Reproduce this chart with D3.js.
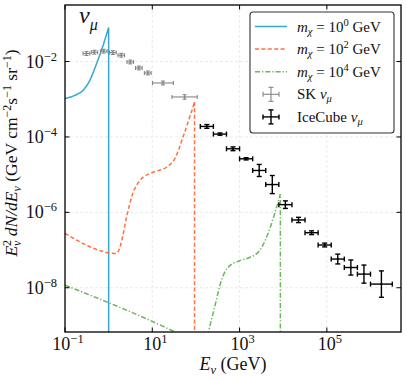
<!DOCTYPE html>
<html>
<head>
<meta charset="utf-8">
<script src="https://cdn.jsdelivr.net/npm/d3@7"></script>
<style>
  body { margin: 0; background: #fff; }
  svg { display: block; }
  text { font-family: "Liberation Serif", "DejaVu Serif", serif; fill: #111; }
</style>
</head>
<body>
<div id="viz-container"></div>
<script>
// curves: E (GeV) and E^2 dN/dE
const blueE = [0.1, 0.169, 0.262, 0.372, 0.531, 0.75, 1.0];
const blueFlux = [1.04e-3, 1.27e-3, 1.73e-3, 3.18e-3, 8.85e-3, 2.72e-2, 8.0e-2];
const orangeE = [0.1, 1.52, 1.81, 2.57, 3.35, 5.18, 10.4, 21.1, 32.7, 50.6, 71.9, 90.2, 93.0];
const orangeFlux = [2.76e-7, 8.13e-8, 1.17e-7, 7.36e-7, 2.51e-6, 6.97e-6, 1.16e-5, 1.57e-5, 2.63e-5, 9.89e-5, 3.37e-4, 7.64e-4, 8.79e-4];
const greenE = [0.1, 35.5, 100, 141, 188, 267, 381, 540, 998, 1690, 2864, 4446, 6339, 8600];
const greenFlux = [1.17e-8, 6.44e-10, 3.55e-10, 1.26e-10, 5.83e-10, 2.97e-9, 1.53e-8, 3.44e-8, 5.19e-8, 6.35e-8, 9.57e-8, 2.67e-7, 9.06e-7, 3.08e-6];
const massLabels = ["0", "2", "4"];

// Super-Kamiokande points
const skE = [0.31, 0.47, 0.77, 1.25, 1.95, 3.13, 4.93, 7.9, 17.5, 55];
const skEmin = [0.26, 0.40, 0.65, 1.05, 1.64, 2.63, 4.14, 6.6, 10.1, 28.2];
const skEmax = [0.37, 0.56, 0.92, 1.49, 2.32, 3.72, 5.87, 9.4, 30.4, 107];
const skFlux = [1.63e-2, 1.77e-2, 1.88e-2, 1.73e-2, 1.47e-2, 9.75e-3, 6.76e-3, 4.98e-3, 2.70e-3, 1.15e-3];
const skErrDex = [0.05, 0.05, 0.05, 0.05, 0.05, 0.05, 0.05, 0.05, 0.05, 0.06];

// IceCube points
const iceE = [178, 355, 708, 1413, 2818, 5623, 11220, 22390, 44670, 89130, 177800, 354800, 707900, 1778000];
const iceBinDex = [0.15, 0.15, 0.15, 0.15, 0.15, 0.15, 0.15, 0.15, 0.15, 0.15, 0.15, 0.15, 0.15, 0.25];
const iceFlux = [1.90e-4, 1.19e-4, 4.85e-5, 2.63e-5, 1.29e-5, 5.46e-6, 1.60e-6, 6.28e-7, 2.88e-7, 1.36e-7, 5.77e-8, 3.44e-8, 2.30e-8, 1.25e-8];
const iceErrDex = [0.05, 0.03, 0.05, 0.03, 0.16, 0.24, 0.1, 0.07, 0.05, 0.05, 0.13, 0.2, 0.24, 0.35];

const xTicks = [1e-1, 1e1, 1e3, 1e5];
const yTicks = [1e-2, 1e-4, 1e-6, 1e-8];

const width = 407, height = 381, margin = { left: 65, right: 6, top: 5, bottom: 49 };
const blue = "#36a8cf", orange = "#ff7043", green = "#6cb65c";

const svg = d3.select("#viz-container").append("svg")
    .attr("width", width)
    .attr("height", height);

const x = d3.scaleLog()
    .domain([0.1, 5.0e6])
    .range([margin.left, width - margin.right]);
const y = d3.scaleLog()
    .domain([6.7e-10, 0.316])
    .range([height - margin.bottom, margin.top]);

const x0 = margin.left, x1 = width - margin.right;
const y0 = height - margin.bottom, y1 = margin.top;

svg.append("clipPath").attr("id", "clip")
    .append("rect").attr("x", x0).attr("y", y1).attr("width", x1 - x0).attr("height", y0 - y1);

// grid
svg.append("g").selectAll("line")
    .data(xTicks.slice(1))
    .join("line")
    .attr("x1", d => x(d)).attr("x2", d => x(d))
    .attr("y1", y1).attr("y2", y0)
    .attr("stroke", "#e4e4e4").attr("stroke-dasharray", "3,2").attr("stroke-width", 0.8);
svg.append("g").selectAll("line")
    .data(yTicks)
    .join("line")
    .attr("y1", d => y(d)).attr("y2", d => y(d))
    .attr("x1", x0).attr("x2", x1)
    .attr("stroke", "#e4e4e4").attr("stroke-dasharray", "3,2").attr("stroke-width", 0.8);

// curves
const plot = svg.append("g").attr("clip-path", "url(#clip)");
const line = d3.line().x(d => x(d[0])).y(d => y(d[1])).curve(d3.curveMonotoneX);

function drawCurve(E, F, color, dash) {
    const pts = E.map((e, i) => [e, F[i]]);
    const last = pts[pts.length - 1];
    plot.append("path")
        .attr("d", line(pts) + `L${x(last[0])},${y0 + 10}`)
        .attr("fill", "none")
        .attr("stroke", color)
        .attr("stroke-width", 1.5)
        .attr("stroke-dasharray", dash);
}
drawCurve(blueE, blueFlux, blue, null);
drawCurve(orangeE, orangeFlux, orange, "4,2.4");
drawCurve(greenE, greenFlux, green, "5,2,1.3,2");

// error bars
function errorBars(E, lo, hi, F, dex, color, sw, cap) {
    const g = plot.append("g").attr("stroke", color).attr("stroke-width", sw).attr("fill", "none");
    E.forEach((e, i) => {
        const cx = x(e), cy = y(F[i]);
        const xa = x(lo[i]), xb = x(hi[i]);
        const ya = y(F[i] * Math.pow(10, dex[i])), yb = y(F[i] / Math.pow(10, dex[i]));
        g.append("line").attr("x1", xa).attr("x2", xb).attr("y1", cy).attr("y2", cy);
        g.append("line").attr("x1", cx).attr("x2", cx).attr("y1", ya).attr("y2", yb);
        [xa, xb].forEach(v => g.append("line").attr("x1", v).attr("x2", v).attr("y1", cy - cap).attr("y2", cy + cap));
        [ya, yb].forEach(v => g.append("line").attr("y1", v).attr("y2", v).attr("x1", cx - cap).attr("x2", cx + cap));
        g.append("circle").attr("cx", cx).attr("cy", cy).attr("r", 1).attr("fill", color).attr("stroke", "none");
    });
}
errorBars(skE, skEmin, skEmax, skFlux, skErrDex, "#858585", 1.1, 2);
errorBars(iceE, iceE.map((e, i) => e / Math.pow(10, iceBinDex[i])), iceE.map((e, i) => e * Math.pow(10, iceBinDex[i])),
    iceFlux, iceErrDex, "#000", 1.4, 2.5);

// frame and ticks
svg.append("rect")
    .attr("x", x0).attr("y", y1).attr("width", x1 - x0).attr("height", y0 - y1)
    .attr("fill", "none").attr("stroke", "#000").attr("stroke-width", 1.3);

const tk = svg.append("g").attr("stroke", "#000").attr("stroke-width", 1);
xTicks.forEach(t => {
    tk.append("line").attr("x1", x(t)).attr("x2", x(t)).attr("y1", y0).attr("y2", y0 - 4.5);
    tk.append("line").attr("x1", x(t)).attr("x2", x(t)).attr("y1", y1).attr("y2", y1 + 4.5);
});
yTicks.forEach(t => {
    tk.append("line").attr("y1", y(t)).attr("y2", y(t)).attr("x1", x0).attr("x2", x0 + 4.5);
    tk.append("line").attr("y1", y(t)).attr("y2", y(t)).attr("x1", x1).attr("x2", x1 - 4.5);
});

// tick labels
function powLabel(sel, exp) {
    sel.append("tspan").text("10");
    sel.append("tspan").attr("dy", -7).attr("font-size", 12.5).text(exp);
}
xTicks.forEach(t => {
    const e = Math.round(Math.log10(t));
    svg.append("text")
        .attr("x", x(t) + 3).attr("y", y0 + 18)
        .attr("text-anchor", "middle")
        .attr("font-size", 18)
        .call(powLabel, e < 0 ? "\u2212" + (-e) : String(e));
});
yTicks.forEach(t => {
    const e = Math.round(Math.log10(t));
    svg.append("text")
        .attr("x", 57).attr("y", y(t) + 6)
        .attr("text-anchor", "end")
        .attr("font-size", 18)
        .call(powLabel, "\u2212" + (-e));
});

// axis labels
const xl = svg.append("text")
    .attr("x", 233).attr("y", 370)
    .attr("text-anchor", "middle")
    .attr("font-size", 18);
xl.append("tspan").attr("font-style", "italic").text("E");
xl.append("tspan").attr("font-style", "italic").attr("font-size", 12.5).attr("dy", 4).text("ν");
xl.append("tspan").attr("dy", -4).text(" (GeV)");

const yl = svg.append("text")
    .attr("transform", "translate(17,153) rotate(-90)")
    .attr("text-anchor", "middle")
    .attr("font-size", 17.5);
yl.append("tspan").attr("font-style", "italic").text("E");
yl.append("tspan").attr("font-size", 12).attr("dy", -6).text("2");
yl.append("tspan").attr("font-style", "italic").attr("font-size", 12).attr("dy", 10).attr("dx", -6).text("ν");
yl.append("tspan").attr("font-style", "italic").attr("dy", -4).text(" dN/dE");
yl.append("tspan").attr("font-style", "italic").attr("font-size", 12).attr("dy", 4).text("ν");
yl.append("tspan").attr("dy", -4).text(" (GeV cm");
yl.append("tspan").attr("font-size", 12).attr("dy", -6).text("\u22122");
yl.append("tspan").attr("dy", 6).text("s");
yl.append("tspan").attr("font-size", 12).attr("dy", -6).text("\u22121");
yl.append("tspan").attr("dy", 6).text(" sr");
yl.append("tspan").attr("font-size", 12).attr("dy", -6).text("\u22121");
yl.append("tspan").attr("dy", 6).text(")");

// panel label
const nu = svg.append("text").attr("x", 79).attr("y", 23).attr("font-size", 24).attr("font-style", "italic");
nu.append("tspan").text("ν");
nu.append("tspan").attr("font-size", 16).attr("dy", 7).text("μ");

// legend
const lg = svg.append("g");
lg.append("rect")
    .attr("x", 250).attr("y", 12).attr("width", 144).attr("height", 121).attr("rx", 3)
    .attr("fill", "#fff").attr("stroke", "#333").attr("stroke-width", 1.1);
const rowY = i => 26.5 + i * 22.6;
[[blue, null], [orange, "4,2.4"], [green, "5,2,1.3,2"]].forEach(([c, dash], i) => {
    lg.append("line").attr("x1", 255).attr("x2", 287).attr("y1", rowY(i)).attr("y2", rowY(i))
        .attr("stroke", c).attr("stroke-width", 1.5).attr("stroke-dasharray", dash);
    const t = lg.append("text").attr("x", 297).attr("y", rowY(i) + 5).attr("font-size", 15);
    t.append("tspan").attr("font-style", "italic").text("m");
    t.append("tspan").attr("font-style", "italic").attr("font-size", 10.5).attr("dy", 3).text("χ");
    t.append("tspan").attr("dy", -3).text(" = 10");
    t.append("tspan").attr("font-size", 10.5).attr("dy", -6).text(massLabels[i]);
    t.append("tspan").attr("dy", 6).text(" GeV");
});
[["#858585", "SK "], ["#000", "IceCube "]].forEach(([c, name], j) => {
    const cy = rowY(3 + j), cx = 271;
    const g = lg.append("g").attr("stroke", c).attr("stroke-width", j ? 1.4 : 1.1);
    g.append("line").attr("x1", cx - 8).attr("x2", cx + 8).attr("y1", cy).attr("y2", cy);
    g.append("line").attr("x1", cx).attr("x2", cx).attr("y1", cy - 7).attr("y2", cy + 7);
    g.append("line").attr("x1", cx - 8).attr("x2", cx - 8).attr("y1", cy - 2.5).attr("y2", cy + 2.5);
    g.append("line").attr("x1", cx + 8).attr("x2", cx + 8).attr("y1", cy - 2.5).attr("y2", cy + 2.5);
    g.append("line").attr("x1", cx - 2.5).attr("x2", cx + 2.5).attr("y1", cy - 7).attr("y2", cy - 7);
    g.append("line").attr("x1", cx - 2.5).attr("x2", cx + 2.5).attr("y1", cy + 7).attr("y2", cy + 7);
    const t = lg.append("text").attr("x", 297).attr("y", cy + 5).attr("font-size", 15);
    t.append("tspan").text(name);
    t.append("tspan").attr("font-style", "italic").text("ν");
    t.append("tspan").attr("font-style", "italic").attr("font-size", 10.5).attr("dy", 3).text("μ");
});
</script>
</body>
</html>
